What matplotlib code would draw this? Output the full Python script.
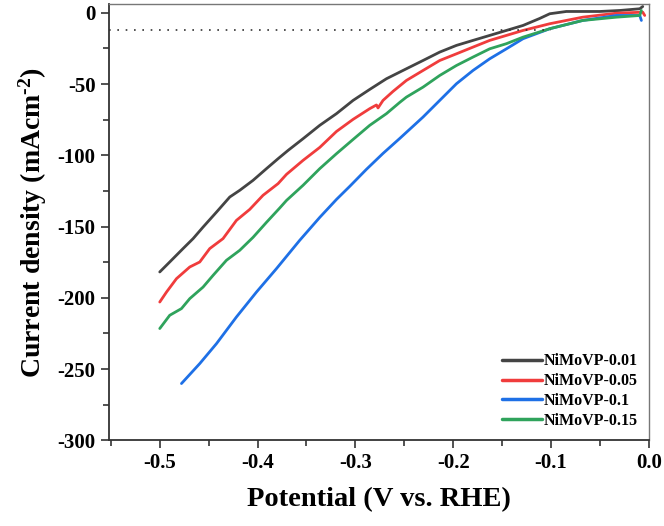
import matplotlib
matplotlib.use("Agg")
import matplotlib.pyplot as plt
from matplotlib.ticker import MultipleLocator

labels = ["NiMoVP-0.01", "NiMoVP-0.05", "NiMoVP-0.1", "NiMoVP-0.15"]
colors = ["#444444", "#F03C3C", "#1E70E6", "#2FA35C"]

x_001 = [-0.5000, -0.4898, -0.4762, -0.4659, -0.4557, -0.4420, -0.4284, -0.4182, -0.4046,
         -0.3909, -0.3790, -0.3688, -0.3535, -0.3364, -0.3193, -0.3023, -0.2853, -0.2682,
         -0.2478, -0.2308, -0.2137, -0.1966, -0.1797, -0.1626, -0.1455, -0.1285, -0.1115,
         -0.1012, -0.0842, -0.0501, -0.0297, -0.0092, -0.0061]
y_001 = [-181.9, -174.9, -165.5, -158.5, -150.4, -139.9, -129.3, -124.6, -117.6,
         -109.4, -102.4, -96.6, -88.4, -79.0, -70.8, -61.5, -53.8, -46.3,
         -39.3, -33.5, -27.6, -22.9, -19.4, -15.9, -12.4, -8.9, -4.0,
         -0.7, 0.9, 0.9, 1.6, 2.8, 4.4]

x_005 = [-0.5000, -0.4931, -0.4829, -0.4693, -0.4591, -0.4489, -0.4353, -0.4216, -0.4080,
         -0.3944, -0.3790, -0.3704, -0.3535, -0.3364, -0.3193, -0.3023, -0.2853, -0.2784,
         -0.2768, -0.2717, -0.2615, -0.2478, -0.2308, -0.2137, -0.1966, -0.1797, -0.1626,
         -0.1455, -0.1285, -0.1012, -0.0675, -0.0330, -0.0061, -0.0041]
y_005 = [-203.0, -196.0, -186.6, -178.4, -174.9, -165.5, -158.5, -145.7, -138.0,
         -128.1, -119.9, -113.4, -103.6, -94.5, -83.3, -74.8, -67.3, -64.7,
         -66.8, -61.5, -55.2, -47.5, -40.5, -33.5, -28.8, -24.1, -19.4,
         -15.9, -12.4, -7.7, -3.1, -0.3, 0.4, -1.9]

x_01 = [-0.4778, -0.4591, -0.4420, -0.4216, -0.4011, -0.3807, -0.3569, -0.3364, -0.3193,
        -0.3057, -0.2887, -0.2717, -0.2546, -0.2308, -0.2137, -0.1966, -0.1797, -0.1626,
        -0.1455, -0.1285, -0.1012, -0.0675, -0.0330, -0.0092, -0.0075]
y_01 = [-260.2, -246.2, -232.2, -213.5, -196.0, -179.6, -159.7, -143.6, -131.0,
        -121.8, -109.9, -98.7, -88.2, -73.2, -61.5, -49.8, -40.5, -32.3,
        -25.3, -18.2, -11.2, -5.4, -1.9, -1.9, -5.4]

x_015 = [-0.5000, -0.4898, -0.4778, -0.4693, -0.4557, -0.4455, -0.4318, -0.4182, -0.4046,
         -0.3909, -0.3773, -0.3704, -0.3535, -0.3364, -0.3193, -0.3023, -0.2853, -0.2682,
         -0.2546, -0.2478, -0.2308, -0.2137, -0.1966, -0.1797, -0.1626, -0.1455, -0.1285,
         -0.1012, -0.0675, -0.0330, -0.0092, -0.0075]
y_015 = [-221.6, -212.3, -207.6, -200.6, -192.5, -184.3, -173.7, -166.7, -157.6,
         -147.1, -137.0, -131.7, -121.1, -109.4, -98.9, -88.9, -79.0, -70.8,
         -62.9, -59.2, -52.2, -44.0, -37.0, -31.1, -25.3, -21.7, -17.1,
         -11.2, -5.4, -3.1, -1.9, 1.6]

ref_current = -12
ref_x = [-0.552, -0.100]

plt.rcParams['font.family'] = ['Liberation Serif', 'DejaVu Serif']
plt.rcParams['font.weight'] = 'bold'
plt.rcParams['mathtext.fontset'] = 'custom'
plt.rcParams['mathtext.rm'] = 'Liberation Serif:bold'
plt.rcParams['mathtext.bf'] = 'Liberation Serif:bold'
plt.rcParams['mathtext.it'] = 'Liberation Serif:bold'

fig = plt.figure(figsize=(6.64, 5.26), dpi=100)
ax = fig.add_axes([0.164, 0.163, 0.813, 0.829])

series = [(x_001, y_001), (x_005, y_005), (x_01, y_01), (x_015, y_015)]
for (xs, ys), lab, col in zip(series, labels, colors):
    ax.plot(xs, ys, color=col, lw=2.0, label=lab, solid_capstyle='round',
            solid_joinstyle='round')

ax.plot(ref_x, [ref_current, ref_current], color='#333333', lw=1.2,
        linestyle=(0, (1, 4)))

ax.set_xlim(-0.552, 0.0)
ax.set_ylim(-300, 6)
ax.xaxis.set_minor_locator(MultipleLocator(0.05))
ax.yaxis.set_minor_locator(MultipleLocator(25))
ax.set_xticks([-0.5, -0.4, -0.3, -0.2, -0.1, 0.0])
ax.set_xticklabels(["-0.5", "-0.4", "-0.3", "-0.2", "-0.1", "0.0"])
ax.set_yticks([0, -50, -100, -150, -200, -250, -300])
ax.set_yticklabels(["0", "-50", "-100", "-150", "-200", "-250", "-300"])

ax.tick_params(axis='both', which='major', direction='out', length=6, width=1.2,
               labelsize=15, colors='#333333', labelcolor='black')
ax.tick_params(axis='both', which='minor', direction='out', length=4, width=1.2,
               colors='#333333')
for lbl in ax.get_xticklabels() + ax.get_yticklabels():
    lbl.set_fontweight('bold')

for side in ['left', 'bottom']:
    ax.spines[side].set_color('#333333')
    ax.spines[side].set_linewidth(1.3)
for side in ['top', 'right']:
    ax.spines[side].set_color('#777777')
    ax.spines[side].set_linewidth(1.0)

ax.set_xlabel("Potential (V vs. RHE)", fontsize=20.5, fontweight='bold', labelpad=10)
ax.set_ylabel("Current density (mAcm$^{\\text{-2}}$)", fontsize=20, fontweight='bold',
              labelpad=6)

leg = ax.legend(loc='lower right', frameon=False, fontsize=11.5,
                handlelength=2.5, handletextpad=0.1, labelspacing=0.25,
                bbox_to_anchor=(1.0, 0.0), borderaxespad=0.3)
for t in leg.get_texts():
    t.set_fontweight('bold')
for h in leg.get_lines():
    h.set_linewidth(2.5)

fig.savefig("out.png", dpi=100)
